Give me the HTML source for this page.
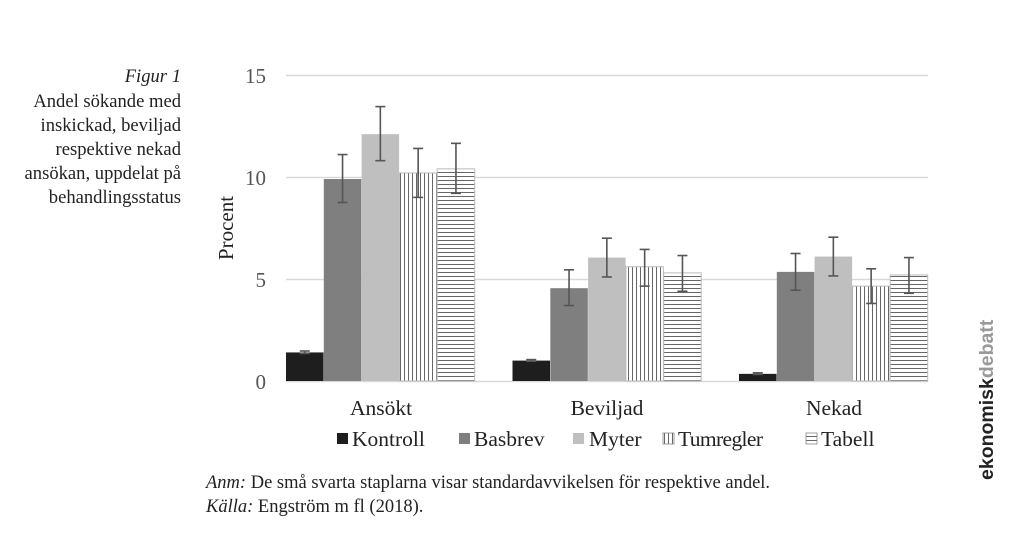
<!DOCTYPE html>
<html><head><meta charset="utf-8"><style>
body{margin:0;background:#fff;width:1024px;height:550px;overflow:hidden;font-family:"Liberation Serif",serif;}
</style></head><body>
<svg width="1024" height="550" xmlns="http://www.w3.org/2000/svg" font-family="Liberation Serif, serif">
<defs>
<pattern id="vl" width="4" height="4" patternUnits="userSpaceOnUse"><rect width="4" height="4" fill="#fff"/><rect x="0" width="1" height="4" fill="#666"/></pattern>
<pattern id="hl" width="4" height="4" patternUnits="userSpaceOnUse"><rect width="4" height="4" fill="#fff"/><rect y="0" width="4" height="1" fill="#666"/></pattern>
</defs>
<g font-size="18.6" fill="#222" text-anchor="end">
<text x="181" y="82" font-style="italic">Figur 1</text>
<text x="181" y="107">Andel sökande med</text>
<text x="181" y="131">inskickad, beviljad</text>
<text x="181" y="155">respektive nekad</text>
<text x="181" y="179">ansökan, uppdelat på</text>
<text x="181" y="203">behandlingsstatus</text>
</g>
<g stroke="#d9d9d9" stroke-width="1.5">
<line x1="286" y1="75.5" x2="928" y2="75.5"/><line x1="286" y1="177.5" x2="928" y2="177.5"/><line x1="286" y1="279.5" x2="928" y2="279.5"/><line x1="286" y1="381.5" x2="928" y2="381.5"/>
</g>
<g font-size="21" fill="#555" text-anchor="end">
<text x="266" y="83">15</text><text x="266" y="185">10</text><text x="266" y="287">5</text><text x="266" y="389">0</text>
</g>
<text transform="translate(233,228) rotate(-90)" font-size="21" fill="#222" text-anchor="middle">Procent</text>
<g id="bars"></g>
<g font-size="21.5" fill="#222" text-anchor="middle">
<text x="381" y="415">Ansökt</text><text x="607" y="415">Beviljad</text><text x="834" y="415">Nekad</text>
</g>
<g font-size="21.5" fill="#222">
<rect x="337" y="433" width="11" height="11" fill="#1e1e1e"/><text x="352" y="446">Kontroll</text>
<rect x="459" y="433" width="11" height="11" fill="#7f7f7f"/><text x="474" y="446">Basbrev</text>
<rect x="573" y="433" width="11" height="11" fill="#bfbfbf"/><text x="589" y="446">Myter</text>
<rect x="663" y="433" width="11" height="11" fill="url(#vl)" stroke="#888" stroke-width="0.8"/><text x="678" y="446" textLength="85">Tumregler</text>
<rect x="806" y="433" width="11" height="11" fill="url(#hl)" stroke="#888" stroke-width="0.8"/><text x="821" y="446">Tabell</text>
</g>
<g font-size="18.5" fill="#222">
<text x="206" y="488"><tspan font-style="italic">Anm:</tspan> De små svarta staplarna visar standardavvikelsen för respektive andel.</text>
<text x="206" y="512"><tspan font-style="italic">Källa:</tspan> Engström m fl (2018).</text>
</g>
<text transform="translate(993,480) rotate(-90)" font-family="Liberation Sans, sans-serif" font-size="19.5" font-weight="bold" fill="#222">ekonomisk<tspan fill="#999">debatt</tspan></text>
<script>
var g=document.getElementById('bars'),ns='http://www.w3.org/2000/svg';
var fills=['#1e1e1e','#7f7f7f','#bfbfbf','url(#vl)','url(#hl)'];
var data=[[[1.4,1.35,1.47],[9.9,8.75,11.1],[12.1,10.8,13.45],[10.2,9.0,11.4],[10.4,9.2,11.65]],
[[1.0,0.97,1.05],[4.55,3.7,5.45],[6.05,5.1,7.0],[5.6,4.65,6.45],[5.3,4.4,6.15]],
[[0.35,0.32,0.4],[5.35,4.45,6.25],[6.1,5.15,7.05],[4.65,3.8,5.5],[5.2,4.3,6.05]]];
function Y(v){return 381-v*20.4;}
function el(t,a){var e=document.createElementNS(ns,t);for(var k in a)e.setAttribute(k,a[k]);g.appendChild(e);return e;}
for(var i=0;i<3;i++)for(var j=0;j<5;j++){
 var x=286+i*226.5+j*37.8,w=37.5,d=data[i][j];
 el('rect',{x:x,y:Y(d[0]),width:w,height:381-Y(d[0]),fill:fills[j],stroke:j>=3?'#bbb':'none','stroke-width':1});
 var cx=x+w/2;
 el('line',{x1:cx,x2:cx,y1:Y(d[2]),y2:Y(d[1]),stroke:'#555','stroke-width':1.6});
 el('line',{x1:cx-5,x2:cx+5,y1:Y(d[2]),y2:Y(d[2]),stroke:'#555','stroke-width':1.6});
 el('line',{x1:cx-5,x2:cx+5,y1:Y(d[1]),y2:Y(d[1]),stroke:'#555','stroke-width':1.6});
}
</script>
</svg>
</body></html>
